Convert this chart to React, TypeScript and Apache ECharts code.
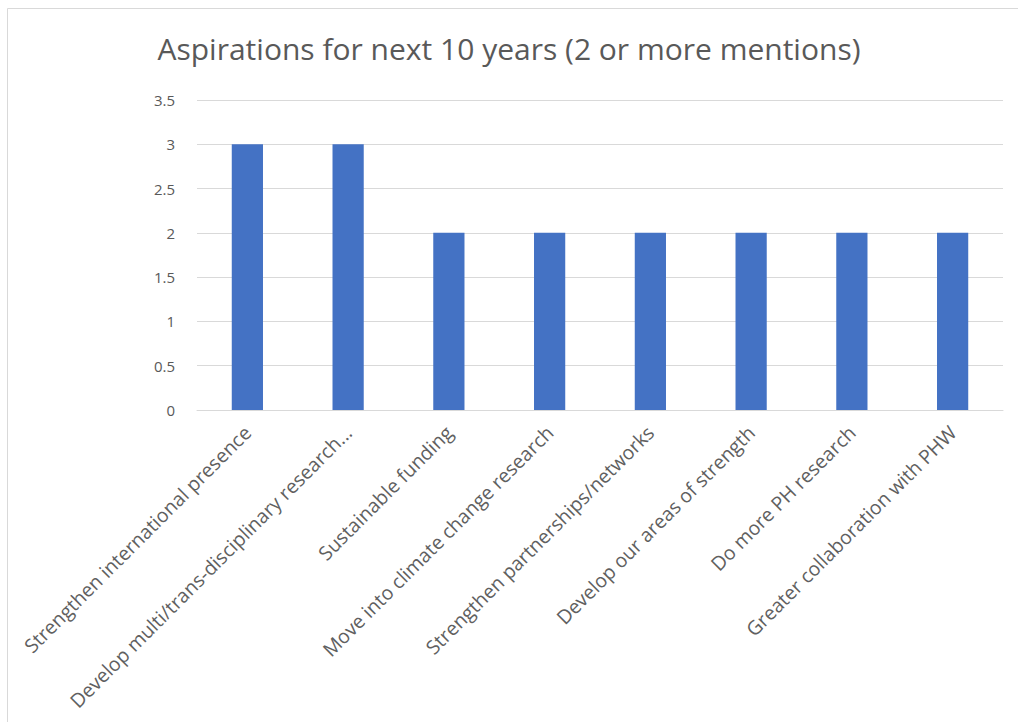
import React, { useEffect, useRef } from "react";
import * as echarts from "echarts";

const titleText = "Aspirations for next 10 years (2 or more mentions)";
const categories = [
  "Strengthen international presence",
  "Develop multi/trans-disciplinary research...",
  "Sustainable funding",
  "Move into climate change research",
  "Strengthen partnerships/networks",
  "Develop our areas of strength",
  "Do more PH research",
  "Greater collaboration with PHW",
];
const mentions = [3, 3, 2, 2, 2, 2, 2, 2];
const yMin = 0;
const yMax = 3.5;
const yStep = 0.5;

const FONT = "'Open Sans', 'Liberation Sans', sans-serif";

export default function App() {
  const ref = useRef<HTMLDivElement>(null);
  useEffect(() => {
    if (!ref.current) return;
    const chart = echarts.init(ref.current, undefined, { renderer: "svg" });
    chart.setOption({
      animation: false,
      backgroundColor: "#ffffff",
      title: {
        text: titleText,
        left: "center",
        top: 28,
        textStyle: { fontFamily: FONT, fontSize: 30, fontWeight: "normal", color: "#595959" },
      },
      graphic: [
        {
          type: "rect",
          shape: { x: 7.5, y: 8.5, width: 1020, height: 730 },
          style: { fill: "none", stroke: "#d9d9d9", lineWidth: 1 },
          silent: true,
        },
      ],
      grid: { left: 197, right: 15, top: 100, bottom: 312, containLabel: false },
      xAxis: {
        type: "category",
        data: categories,
        axisLine: { show: true, lineStyle: { color: "#d9d9d9" } },
        axisTick: { show: false },
        axisLabel: {
          interval: 0,
          rotate: 45,
          margin: 19,
          fontFamily: FONT,
          fontSize: 19.5,
          color: "#606060",
        },
      },
      yAxis: {
        type: "value",
        min: yMin,
        max: yMax,
        interval: yStep,
        axisLine: { show: false },
        axisTick: { show: false },
        splitLine: { lineStyle: { color: "#d9d9d9" } },
        axisLabel: { fontFamily: FONT, fontSize: 15, color: "#595959", margin: 22 },
      },
      series: [
        {
          type: "bar",
          data: mentions,
          barWidth: "31%",
          itemStyle: { color: "#4472c4" },
        },
      ],
    });
    return () => chart.dispose();
  }, []);
  return (
    <div
      ref={ref}
      style={{ position: "absolute", left: 0, top: 0, width: 1018, height: 722 }}
    />
  );
}
